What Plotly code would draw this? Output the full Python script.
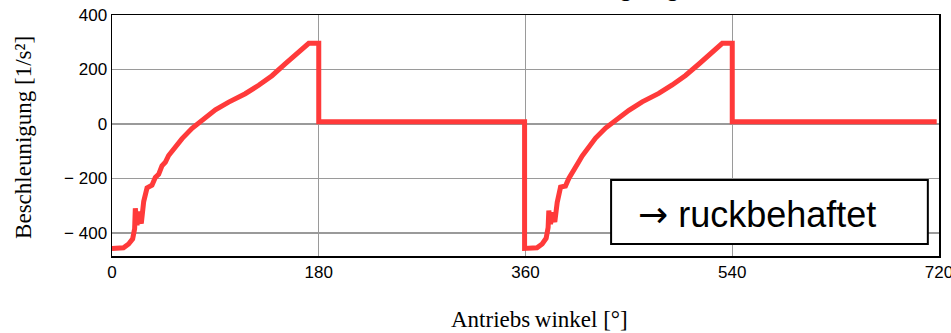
import plotly.graph_objects as go

# Data (angle in degrees, acceleration in 1/s²)
angle_cycle1 = [0, 5, 10, 14.5, 18, 19.7, 20.3, 21.8, 23.2, 25.5, 27.6, 30.5, 34.8, 37.7,
                40.6, 43.5, 46.4, 49.3, 55.2, 61, 69.7, 78.4, 90, 101.6, 116, 127.7,
                139.3, 151, 162.6, 171.3, 178.5, 180, 180, 359.2]
accel_cycle1 = [-457, -457, -455, -441, -422, -385, -310, -372, -322, -366, -285, -235, -225, -197,
                -185, -154, -141, -116, -85, -54, -16, 12, 52, 80, 111, 142,
                177, 221, 265, 296, 296, 296, 8, 8]

angle_cycle2 = [359.2, 365, 370, 374.5, 378, 379.7, 380.3, 381.8, 383.2, 385.5, 387.6, 390.5,
                394.8, 397.7, 400.6, 403.5, 406.4, 409.3, 415.2, 421, 429.7, 438.4, 450,
                461.6, 476, 487.7, 499.3, 511, 522.6, 531.3, 538.5, 540, 540, 718]
accel_cycle2 = [-457, -457, -455, -441, -420, -380, -318, -368, -325, -360, -288, -232, -228, -200,
                -182, -156, -139, -118, -84, -52, -15, 13, 50, 81, 112, 143,
                178, 220, 266, 296, 296, 296, 8, 8]

x_ticks = [0, 180, 360, 540, 720]
x_tick_labels = ["0", "180", "360", "540", "720"]
y_ticks = [-400, -200, 0, 200, 400]
y_tick_labels = ["\u2212 400", "\u2212 200", "0", "200", "400"]

angles = angle_cycle1 + angle_cycle2
accels = accel_cycle1 + accel_cycle2

fig = go.Figure()
fig.add_trace(go.Scatter(
    x=angles, y=accels, mode="lines",
    line=dict(color="rgb(255,58,58)", width=5),
    showlegend=False, hoverinfo="skip",
))

axis_common = dict(
    showline=True, linecolor="black", linewidth=1.5, mirror=True,
    showgrid=True, gridcolor="#9a9a9a", gridwidth=1.3,
    zeroline=False, ticks="", ticklabeloverflow="allow", automargin=False,
    tickfont=dict(family="Liberation Sans, Arial", size=17, color="black"),
)

fig.update_layout(
    width=951, height=333,
    margin=dict(l=112, r=12, t=15, b=77, autoexpand=False),
    paper_bgcolor="white", plot_bgcolor="white",
    xaxis=dict(range=[0, 720], tickvals=x_ticks, ticktext=x_tick_labels, **axis_common),
    yaxis=dict(range=[-485, 400], tickvals=y_ticks, ticktext=y_tick_labels, **axis_common),
    shapes=[dict(type="rect", xref="paper", yref="paper",
                 x0=0.6035, x1=0.9865, y0=0.05, y1=0.315,
                 line=dict(color="black", width=2), fillcolor="white", layer="above")],
    annotations=[
        dict(text="<span style='font-family:DejaVu Sans'>\u2192</span> ruckbehaftet",
             xref="paper", yref="paper", x=0.78, y=0.172,
             xanchor="center", yanchor="middle", showarrow=False,
             font=dict(family="Liberation Sans, Arial", size=36, color="black")),
        dict(text="Beschleunigung [1/s\u00b2]", xref="paper", yref="paper", x=-0.1064, y=0.49,
             xanchor="center", yanchor="middle", textangle=-90, showarrow=False,
             font=dict(family="Liberation Serif, Times New Roman", size=23, color="black")),
        dict(text="Antriebs\u2009winkel [\u00b0]", xref="paper", yref="paper", x=0.5175, y=-0.265,
             xanchor="center", yanchor="middle", showarrow=False,
             font=dict(family="Liberation Serif, Times New Roman", size=23, color="black")),
        dict(text="Beschleunigung", xref="paper", yref="paper", x=0.566, y=1.051,
             xanchor="center", yanchor="bottom", showarrow=False,
             font=dict(family="Liberation Sans, Arial", size=28, color="black")),
    ],
)

fig.write_html(
    "out.html",
    config={"displayModeBar": False, "staticPlot": True},
    post_script="document.body.style.margin='0';document.body.style.overflow='hidden';",
)
